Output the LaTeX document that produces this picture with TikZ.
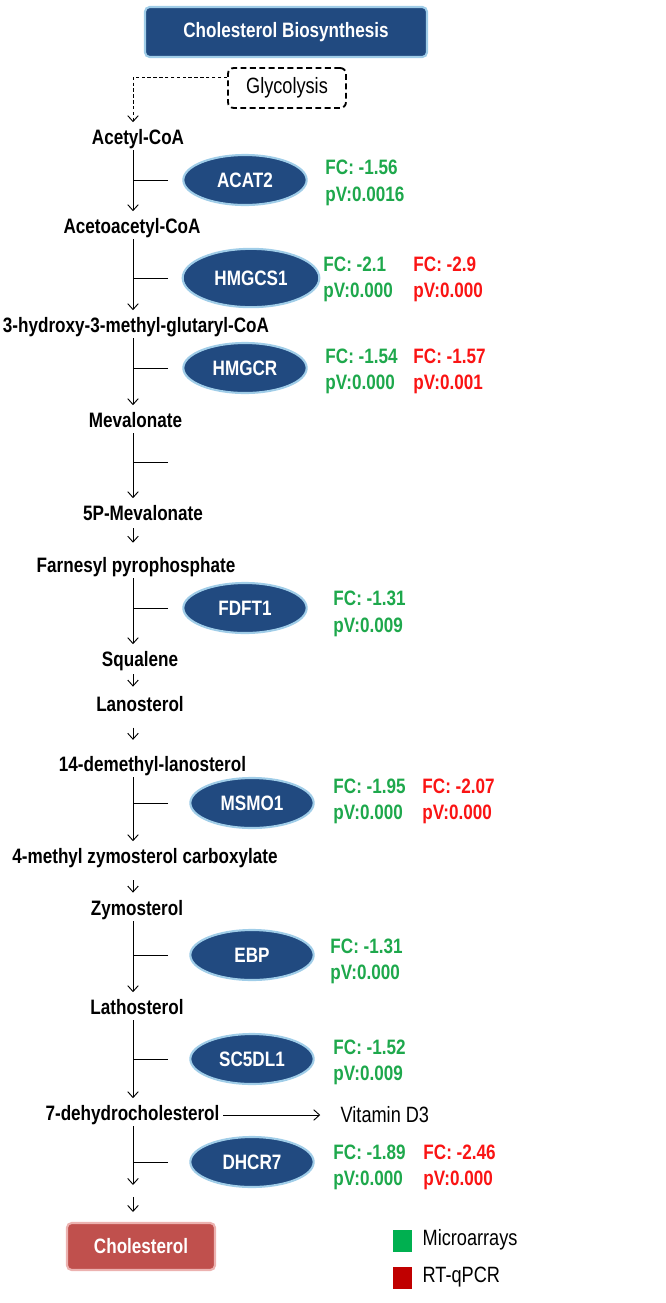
\documentclass[tikz,border=0pt]{standalone}
\usepackage{fontspec}
\setmainfont[FakeStretch=0.82]{Liberation Sans}
\usetikzlibrary{shapes,arrows.meta}
\definecolor{enzblue}{RGB}{33,74,128}
\definecolor{enzrim}{RGB}{160,205,232}
\definecolor{fcgreen}{RGB}{30,168,76}
\definecolor{fcred}{RGB}{250,20,20}
\definecolor{cholred}{RGB}{192,80,77}
\definecolor{cholrim}{RGB}{236,178,176}
\definecolor{leggreen}{RGB}{0,176,80}
\definecolor{legred}{RGB}{192,0,0}

\begin{document}
\begin{tikzpicture}[x=0.03cm,y=-0.03cm,line width=0.8pt,
    >={Straight Barb[length=5pt,width=9pt]},
    metab/.style={font=\fontsize{17.8}{20}\selectfont\bfseries,text height=13pt,text depth=3.5pt,inner sep=1pt},
    enzyme/.style={ellipse,fill=enzblue,draw=enzrim,line width=1.8pt,text=white,
      font=\fontsize{17.8}{20}\selectfont\bfseries,minimum width=3.7cm,minimum height=1.5cm,inner sep=0pt},
    fcval/.style={anchor=west,align=left,inner sep=0pt,font=\fontsize{17.8}{22.5}\selectfont\bfseries},
    flow/.style={->,shorten >=4.7pt},
    legbox/.style={minimum width=0.57cm,minimum height=0.66cm,inner sep=0pt},
    plain/.style={font=\fontsize{18.9}{21}\selectfont,inner sep=1pt}]
  \useasboundingbox (0,0) rectangle (666,1303);

  \node[fill=enzblue,draw=enzrim,line width=1.8pt,rounded corners=4pt,text=white,
    font=\fontsize{17.8}{20}\selectfont\bfseries,minimum width=8.46cm,minimum height=1.5cm]
    (title) at (286,32) {Cholesterol Biosynthesis};
  \node[plain,draw,dash pattern=on 5pt off 3pt,line width=1.6pt,rounded corners=5pt,minimum width=3.54cm,minimum height=1.2cm]
    (glyc) at (287,88) {Glycolysis};

  \coordinate (ax) at (133,0);
  \coordinate (tip) at (168,0);

  \node[metab] (m1) at (138,139) {Acetyl-CoA};
  \node[metab] (m2) at (132,228) {Acetoacetyl-CoA};
  \node[metab] (m3) at (136,327) {3-hydroxy-3-methyl-glutaryl-CoA};
  \node[metab] (m4) at (135.5,422) {Mevalonate};
  \node[metab] (m5) at (143,515) {5P-Mevalonate};
  \node[metab] (m6) at (136,567) {Farnesyl pyrophosphate};
  \node[metab] (m7) at (140,661) {Squalene};
  \node[metab] (m8) at (140,706) {Lanosterol};
  \node[metab] (m9) at (152.5,766) {14-demethyl-lanosterol};
  \node[metab] (m10) at (145,858) {4-methyl zymosterol carboxylate};
  \node[metab] (m11) at (137,910) {Zymosterol};
  \node[metab] (m12) at (137,1009) {Lathosterol};
  \node[metab] (m13) at (132.5,1115) {7-dehydrocholesterol};
  \node[plain,anchor=west] (vitd) at (339,1115) {Vitamin D3};

  \node[fill=cholred,draw=cholrim,line width=1.8pt,rounded corners=4pt,text=white,
    font=\fontsize{17.8}{20}\selectfont\bfseries,minimum width=4.44cm,minimum height=1.41cm]
    (chol) at (141,1246.5) {Cholesterol};

  \node[enzyme] (acat2) at (245,180) {ACAT2};
  \node[enzyme,minimum width=4.1cm,minimum height=1.75cm] (hmgcs1) at (251,278) {HMGCS1};
  \node[enzyme] (hmgcr) at (245,368) {HMGCR};
  \node[enzyme] (fdft1) at (245,608) {FDFT1};
  \node[enzyme] (msmo1) at (252,803) {MSMO1};
  \node[enzyme] (ebp) at (252,955) {EBP};
  \node[enzyme] (sc5dl1) at (252,1059) {SC5DL1};
  \node[enzyme] (dhcr7) at (252,1162) {DHCR7};

  \node[fcval,text=fcgreen] (fc1) at (325,183) {FC: -1.56\\pV:0.0016};
  \node[fcval,text=fcgreen] (fc2) at (323,279.5) {FC: -2.1\\pV:0.000};
  \node[fcval,text=fcred] (rt2) at (413,279.5) {FC: -2.9\\pV:0.000};
  \node[fcval,text=fcgreen] (fc3) at (325,371.5) {FC: -1.54\\pV:0.000};
  \node[fcval,text=fcred] (rt3) at (413,371.5) {FC: -1.57\\pV:0.001};
  \node[fcval,text=fcgreen] (fc4) at (333,614) {FC: -1.31\\pV:0.009};
  \node[fcval,text=fcgreen] (fc5) at (333,801.5) {FC: -1.95\\pV:0.000};
  \node[fcval,text=fcred] (rt5) at (422,801.5) {FC: -2.07\\pV:0.000};
  \node[fcval,text=fcgreen] (fc6) at (330,961.5) {FC: -1.31\\pV:0.000};
  \node[fcval,text=fcgreen] (fc7) at (333,1062.5) {FC: -1.52\\pV:0.009};
  \node[fcval,text=fcgreen] (fc8) at (333,1167.5) {FC: -1.89\\pV:0.000};
  \node[fcval,text=fcred] (rt8) at (423,1167.5) {FC: -2.46\\pV:0.000};

  \draw[->,densely dashed] ([yshift=-8.5pt]glyc.north west) -| ([yshift=4.7pt]m1.north -| ax);
  \draw[flow] (m1.south -| ax) -- (m2.north -| ax);
  \draw[flow] (m2.south -| ax) -- (m3.north -| ax);
  \draw[flow] (m3.south -| ax) -- (m4.north -| ax);
  \draw[flow] (m4.south -| ax) -- (m5.north -| ax);
  \draw[->,shorten <=1.7pt,shorten >=11.1pt] (m5.south -| ax) -- (m6.north -| ax);
  \draw[flow] (m6.south -| ax) -- (m7.north -| ax);
  \draw[->,shorten <=1.7pt,shorten >=6.9pt] (m7.south -| ax) -- (m8.north -| ax);
  \draw[->,shorten <=8.7pt,shorten >=12.7pt] (m8.south -| ax) -- (m9.north -| ax);
  \draw[flow] (m9.south -| ax) -- (m10.north -| ax);
  \draw[->,shorten <=9.4pt,shorten >=5.2pt] (m10.south -| ax) -- (m11.north -| ax);
  \draw[flow] (m11.south -| ax) -- (m12.north -| ax);
  \draw[flow] (m12.south -| ax) -- (m13.north -| ax);
  \coordinate (brk) at (133,1185);
  \draw[->] (m13.south -| ax) -- (brk);
  \draw[->,shorten <=10.2pt,shorten >=8.5pt] (brk) -- (chol.north -| ax);
  \draw[->,shorten <=2pt,shorten >=16pt] (m13.east) -- (vitd.west);

  \draw (acat2 -| tip) -- (acat2 -| ax);
  \draw (hmgcs1 -| tip) -- (hmgcs1 -| ax);
  \draw (hmgcr -| tip) -- (hmgcr -| ax);
  \coordinate (stub) at (168,462);
  \draw (stub) -- (stub -| ax);
  \draw (fdft1 -| tip) -- (fdft1 -| ax);
  \draw (msmo1 -| tip) -- (msmo1 -| ax);
  \draw (ebp -| tip) -- (ebp -| ax);
  \draw (sc5dl1 -| tip) -- (sc5dl1 -| ax);
  \draw (dhcr7 -| tip) -- (dhcr7 -| ax);

  \node[legbox,fill=leggreen] (lg1) at (402.5,1241) {};
  \node[plain,anchor=west] (lt1) at (421,1240) {Microarrays};
  \node[legbox,fill=legred] (lg2) at (402.5,1277.5) {};
  \node[plain,anchor=west] (lt2) at (421,1277) {RT-qPCR};
\end{tikzpicture}
\end{document}
